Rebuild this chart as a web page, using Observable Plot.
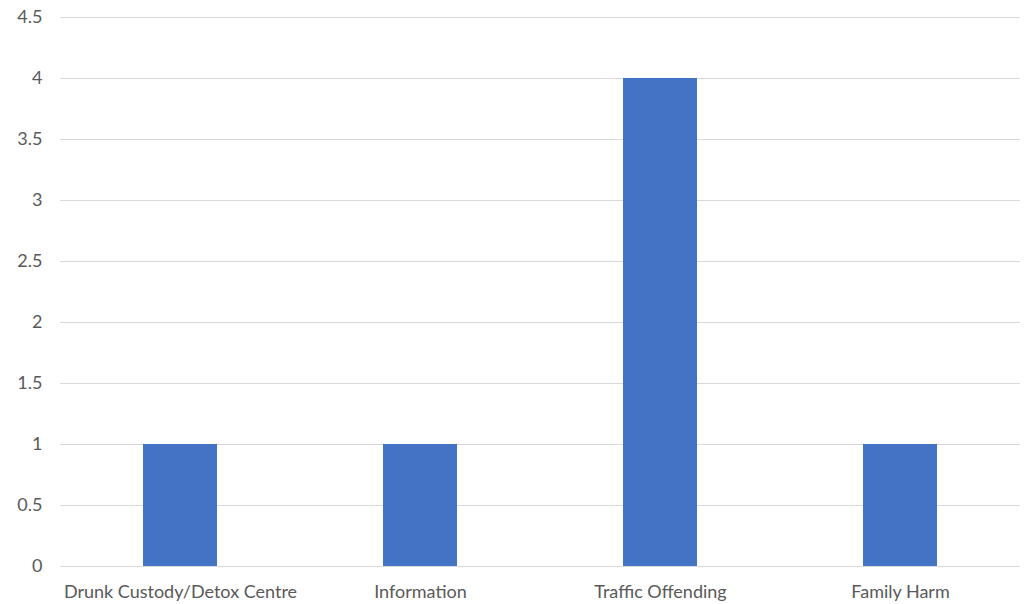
<!DOCTYPE html>
<html>
<head>
<meta charset="utf-8">
<script src="https://cdn.jsdelivr.net/npm/d3@7"></script>
<script src="https://cdn.jsdelivr.net/npm/@observablehq/plot@0.6"></script>
<style>
  html, body { margin: 0; padding: 0; background: #fff; }
  #chart svg { display: block; }
</style>
</head>
<body>
<div id="chart"></div>
<script>
const categories = ["Drunk Custody/Detox Centre", "Information", "Traffic Offending", "Family Harm"];
const values = [1, 1, 4, 1];
const yTicks = [0, 0.5, 1, 1.5, 2, 2.5, 3, 3.5, 4, 4.5];

const data = categories.map((c, i) => ({category: c, value: values[i]}));

const chart = Plot.plot({
  width: 1031,
  height: 604,
  marginTop: 17,
  marginBottom: 38,
  marginLeft: 60,
  marginRight: 11,
  style: {fontFamily: "Lato, 'Open Sans', sans-serif", background: "#fff"},
  x: {domain: categories, paddingInner: 0.69, paddingOuter: 0.345, label: null},
  y: {domain: [0, 4.5], label: null},
  marks: [
    Plot.ruleY(yTicks, {stroke: "#d9d9d9", strokeWidth: 1.2}),
    Plot.barY(data, {x: "category", y: "value", fill: "#4472C4"}),
    Plot.axisY({ticks: yTicks, tickSize: 0, tickPadding: 18, fontSize: 18, fill: "#595959", tickFormat: d => String(d), label: null}),
    Plot.axisX({tickSize: 0, tickPadding: 19, fontSize: 18, fill: "#595959", label: null})
  ]
});
document.getElementById("chart").appendChild(chart);
</script>
</body>
</html>
